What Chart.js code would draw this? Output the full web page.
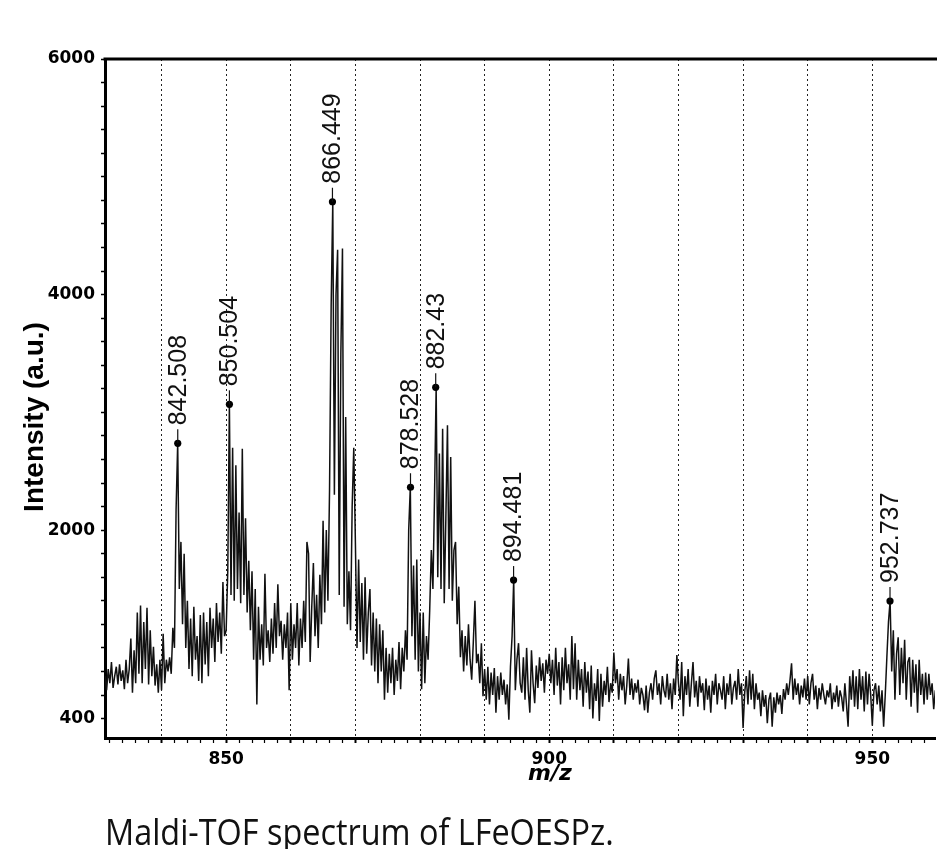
<!DOCTYPE html>
<html><head><meta charset="utf-8">
<script src="https://cdn.jsdelivr.net/npm/chart.js@4.4.1/dist/chart.umd.min.js"></script>
<style>
html,body{margin:0;padding:0;background:#fff;overflow:hidden;width:939px;height:849px;}
#wrap{position:relative;width:939px;height:849px;}
canvas{position:absolute;left:0;top:0;}
#caption{position:absolute;left:105px;top:814px;font-family:"Open Sans";font-size:36px;line-height:36px;color:#111;white-space:nowrap;transform:scaleX(0.9);transform-origin:0 0;}
</style></head><body>
<div id="wrap"><canvas id="c" width="939" height="849"></canvas><div id="caption">Maldi-TOF spectrum of LFeOESPz.</div></div>
<script>
// m/z sampling: each segment starts at segStart and advances by mzStep
const mzStep = 0.25;
const segStart = [831.25, 840, 850, 860, 870, 880, 890, 900, 910, 920, 930, 940, 950];

const i830 = [760,640,820,700,880,660,760,840,690,860,
  720,810,650,900,700,820,1080,620,980,700,
  1300,780,1360,700,1220,820,1340,690,1150,760,
  1010,680,860,620,900];
const i840 = [640,1120,700,900,800,920,780,1170,1000,2170,
  2737,1500,1900,1200,1800,1000,1400,820,1250,760,
  1350,900,1100,720,1280,700,1300,860,1220,760,
  1340,1000,1250,880,1380,1050,1300,950,1560,1100];
const i850 = [1150,1650,3068,1450,2700,1400,2550,1500,2150,1380,
  2690,1450,2100,1300,1740,1150,1650,900,1500,520,
  1350,900,1200,850,1630,1000,1150,880,1250,950,
  1380,1000,1540,1100,1230,900,1200,1000,1300,640];
const i860 = [1380,900,1200,1000,1380,850,1250,1000,1400,1050,
  1900,1800,880,1350,1720,1100,1450,1000,1620,1200,
  2080,1300,2000,1400,2340,3900,4788,2300,4000,4380,
  1450,3500,4390,1350,2960,1200,1650,1150,2200,2700];
const i870 = [1900,1000,1750,1050,1550,900,1600,950,1300,1500,
  850,1300,800,1250,700,1200,800,1150,560,1000,
  620,950,700,1000,600,900,720,1050,650,1000,
  800,1150,900,2000,2364,1100,1700,900,1750,800];
const i880 = [1300,650,1300,700,1100,900,1320,1830,1500,2300,
  3212,1600,2650,1500,2860,1380,2100,2890,1500,2620,
  1400,1830,1900,1200,1520,920,1150,800,1100,850,
  1200,900,730,1050,1400,870,950,700,1040,590];
const i890 = [820,560,840,520,790,600,830,450,760,560,
  790,600,730,520,690,390,840,1100,1576,640,
  900,1040,700,620,920,560,1000,640,450,980,
  700,530,850,660,920,720,870,620,900,780];
const i900 = [950,700,900,600,1000,680,880,520,920,640,
  1000,700,860,560,1100,650,1040,560,900,640,
  820,500,880,620,800,480,850,400,700,550,
  820,380,780,500,720,600,840,540,700,620];
const i910 = [960,700,820,560,780,640,760,520,680,910,
  600,740,560,700,620,730,520,660,600,470,
  680,450,620,700,560,740,810,600,700,520,
  760,640,580,780,560,700,480,740,600,940];
const i920 = [700,560,880,420,760,600,820,500,700,880,
  580,720,500,760,620,700,470,740,560,680,
  450,720,600,780,520,700,640,560,760,480,
  700,600,780,520,660,720,560,820,600,700];
const i930 = [320,620,760,520,810,560,780,480,700,560,
  620,420,640,500,600,360,560,620,330,580,
  450,620,520,600,440,650,560,700,600,720,
  870,560,740,600,700,520,680,580,740,560];
const i940 = [760,520,700,780,560,680,480,660,560,700,
  600,520,640,580,700,480,620,540,680,500,
  640,580,460,700,520,330,760,560,810,500,
  760,480,820,560,760,460,800,520,780,600];
const i950 = [340,640,700,520,680,460,640,330,600,920,
  1220,1398,800,1150,560,950,1090,600,1000,700,
  1070,560,880,920,500,900,620,860,450,900,
  600,780,520,790,560,780,600,700,480,640];

const peakMz = [842.508, 850.504, 866.449, 878.528, 882.43, 894.481, 952.737];
const peakInt = [2737, 3068, 4788, 2364, 3212, 1576, 1398];
const peakLabels = ['842.508','850.504','866.449','878.528','882.43','894.481','952.737'];

const xLabeled = [850, 900, 950];
const yLabeled = [400, 2000, 4000, 6000];
const xRange = [831.25, 959.7];
const yRange = [235, 6000];

const segs = [i830,i840,i850,i860,i870,i880,i890,i900,i910,i920,i930,i940,i950];
const spectrum = [];
segs.forEach((arr, s) => arr.forEach((v, k) => spectrum.push({x: segStart[s] + k * mzStep, y: v})));
const peaks = peakMz.map((m, i) => ({x: m, y: peakInt[i]}));

const frame = {
  id: 'frame',
  afterDraw(chart) {
    const {ctx, chartArea: a, scales: {x, y}} = chart;
    ctx.save();
    ctx.strokeStyle = '#000'; ctx.lineWidth = 3;
    ctx.beginPath(); ctx.moveTo(a.left - 1.5, a.top); ctx.lineTo(a.right + 2, a.top); ctx.stroke();
    ctx.fillStyle = '#111'; ctx.strokeStyle = '#111'; ctx.lineWidth = 1.2;
    ctx.font = '25px "Liberation Sans"';
    peakMz.forEach((m, i) => {
      const px = x.getPixelForValue(m), py = y.getPixelForValue(peakInt[i]);
      ctx.beginPath(); ctx.moveTo(px, py); ctx.lineTo(px, py - 14); ctx.stroke();
      ctx.save(); ctx.translate(px, py - 18); ctx.rotate(-Math.PI / 2);
      ctx.textAlign = 'left'; ctx.textBaseline = 'middle';
      ctx.fillText(peakLabels[i], 0, 1); ctx.restore();
    });
    ctx.fillStyle = '#000';
    ctx.font = 'bold 28px "Liberation Sans"';
    ctx.save(); ctx.translate(43, 417); ctx.rotate(-Math.PI / 2);
    ctx.textAlign = 'center'; ctx.textBaseline = 'alphabetic';
    ctx.fillText('Intensity (a.u.)', 0, 0); ctx.restore();
    ctx.font = 'italic bold 22px "DejaVu Sans"';
    ctx.textAlign = 'center'; ctx.textBaseline = 'alphabetic';
    ctx.fillText('m/z', 550, 780);
    ctx.restore();
  }
};

new Chart(document.getElementById('c'), {
  type: 'scatter',
  data: {
    datasets: [
      {data: spectrum, showLine: true, borderColor: '#111', borderWidth: 1.5, pointRadius: 0,
       tension: 0, borderJoinStyle: 'bevel', order: 2},
      {data: peaks, showLine: false, pointRadius: 3.6, pointBackgroundColor: '#000',
       pointBorderColor: '#000', pointBorderWidth: 0, order: 1}
    ]
  },
  options: {
    responsive: false, animation: false, devicePixelRatio: 1,
    layout: {padding: {top: 59, left: 0, right: 0, bottom: 0}},
    plugins: {legend: {display: false}, tooltip: {enabled: false}},
    scales: {
      x: {
        type: 'linear', min: xRange[0], max: xRange[1],
        afterFit: s => { s.height = 111; },
        afterBuildTicks: s => { const t = []; for (let v = 832; v <= 958; v += 2) t.push({value: v}); s.ticks = t; },
        ticks: {autoSkip: false, maxRotation: 0, padding: 6, color: '#000',
          font: {family: 'DejaVu Sans', weight: 'bold', size: 17},
          callback: v => xLabeled.includes(v) ? String(v) : ''},
        grid: {drawOnChartArea: true, drawTicks: true, tickLength: 5,
          color: c => (c.tick && c.tick.value % 10 === 0) ? '#222' : 'rgba(0,0,0,0)',
          lineWidth: 1, tickColor: '#000', tickWidth: c => (c.tick && c.tick.value % 10 === 0) ? 2 : 1.2},
        border: {display: true, color: '#000', width: 3, dash: [2, 3]}
      },
      y: {
        type: 'linear', min: yRange[0], max: yRange[1],
        afterFit: s => { s.width = 105; },
        afterBuildTicks: s => { const t = []; for (let v = 400; v <= 6000; v += 200) t.push({value: v}); s.ticks = t; },
        ticks: {autoSkip: false, padding: 6, color: '#000',
          font: {family: 'DejaVu Sans', weight: 'bold', size: 17},
          callback: v => yLabeled.includes(v) ? String(v) : ''},
        grid: {drawOnChartArea: false, drawTicks: true, tickLength: 4, tickColor: '#000', tickWidth: 1.5},
        border: {display: true, color: '#000', width: 3}
      }
    }
  },
  plugins: [frame]
});
</script></body></html>
